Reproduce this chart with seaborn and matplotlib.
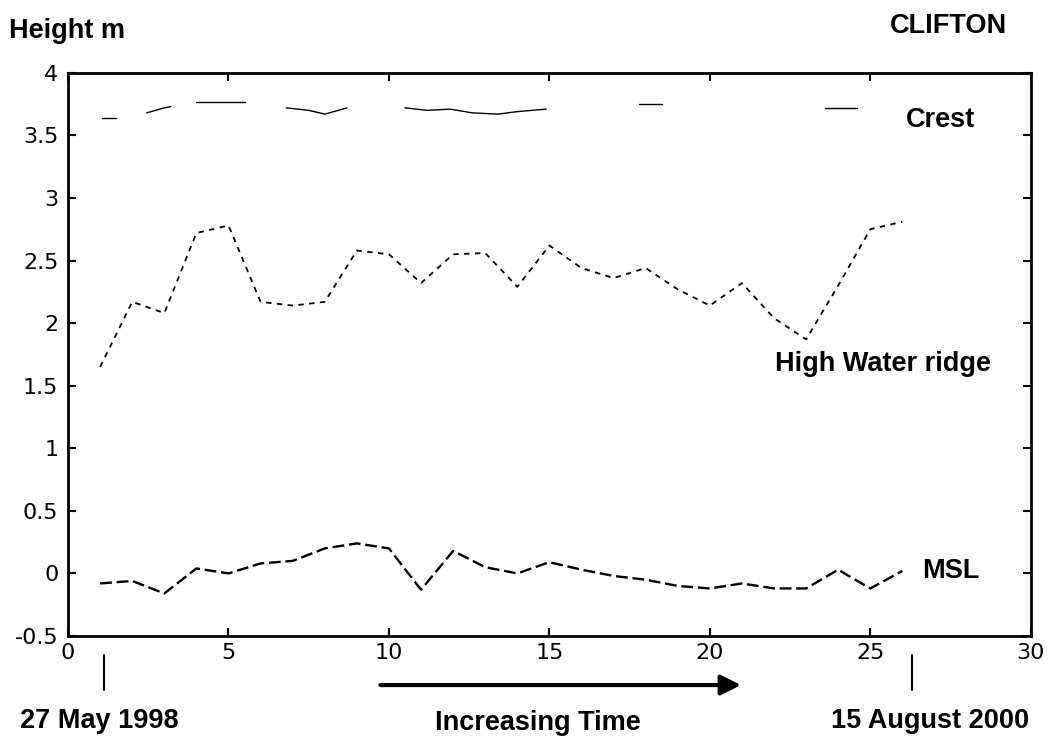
import numpy as np
import pandas as pd
import matplotlib
matplotlib.use('Agg')
import matplotlib.pyplot as plt
import seaborn as sns

# ---------------------------------------------------------------------------
# data
# ---------------------------------------------------------------------------
survey = list(range(1, 27))

high_water = [1.65, 2.17, 2.08, 2.72, 2.78, 2.17, 2.14, 2.17, 2.58, 2.55,
              2.32, 2.55, 2.56, 2.29, 2.62, 2.44, 2.36, 2.44, 2.27, 2.14,
              2.32, 2.04, 1.87, 2.30, 2.75, 2.81]

msl = [-0.08, -0.06, -0.16, 0.04, 0.00, 0.08, 0.10, 0.20, 0.24, 0.20,
       -0.13, 0.18, 0.05, 0.00, 0.09, 0.03, -0.02, -0.05, -0.10, -0.12,
       -0.08, -0.12, -0.12, 0.03, -0.12, 0.02]

# crest is only visible in pieces
crest_x = [1.05, 1.5,
           2.45, 3.0, 3.2,
           4.0, 5.5,
           6.8, 7.5, 8.0, 8.7,
           10.5, 11.2, 11.9, 12.6, 13.4, 14.0, 14.9,
           17.8, 18.5,
           23.6, 24.6]
crest_y = [3.64, 3.64,
           3.68, 3.72, 3.73,
           3.77, 3.77,
           3.72, 3.70, 3.67, 3.72,
           3.72, 3.70, 3.71, 3.68, 3.67, 3.69, 3.71,
           3.75, 3.75,
           3.72, 3.72]
crest_seg = [1, 1, 2, 2, 2, 3, 3, 4, 4, 4, 4,
             5, 5, 5, 5, 5, 5, 5, 6, 6, 7, 7]

xticks = [0, 5, 10, 15, 20, 25, 30]
yticks = [-0.5, 0, 0.5, 1, 1.5, 2, 2.5, 3, 3.5, 4]
ytick_labels = ['-0.5', '0', '0.5', '1', '1.5', '2', '2.5', '3', '3.5', '4']

# ---------------------------------------------------------------------------
sns.set_style('ticks')
plt.rcParams['font.family'] = ['DejaVu Sans']
plt.rcParams['text.color'] = 'black'
BOLD = ['Liberation Sans', 'DejaVu Sans']
LBL = dict(fontsize=19.5, fontweight='heavy', family=BOLD, color='black')

fig = plt.figure(figsize=(10.55, 7.43), dpi=100)
ax = fig.add_axes([0.0645, 0.144, 0.9125, 0.758])

df_main = pd.DataFrame({'x': survey, 'hw': high_water, 'msl': msl})
df_crest = pd.DataFrame({'x': crest_x, 'y': crest_y, 'seg': crest_seg})

sns.lineplot(data=df_crest, x='x', y='y', units='seg', estimator=None,
             color='black', linewidth=1.0, ax=ax, sort=False)
sns.lineplot(data=df_main, x='x', y='hw', color='black', linewidth=1.3,
             linestyle=(0, (3, 3)), ax=ax)
sns.lineplot(data=df_main, x='x', y='msl', color='black', linewidth=1.7,
             linestyle=(0, (5, 2)), ax=ax)

ax.set_xlim(0, 30)
ax.set_ylim(-0.5, 4)
ax.set_xticks(xticks)
ax.set_yticks(yticks)
ax.set_yticklabels(ytick_labels)
ax.set_xlabel('')
ax.set_ylabel('')
ax.tick_params(direction='in', length=6, width=1.5, labelsize=16,
               top=True, right=True, colors='black')
ax.tick_params(axis='y', pad=7)
ax.tick_params(axis='x', pad=5)
for spine in ax.spines.values():
    spine.set_visible(True)
    spine.set_linewidth(2)
    spine.set_color('black')

# labels inside the plot
ax.text(27.2, 3.62, 'Crest', ha='center', va='center', **LBL)
ax.text(25.4, 1.67, 'High Water ridge', ha='center', va='center', **LBL)
ax.text(27.5, 0.02, 'MSL', ha='center', va='center', **LBL)

# header texts
fig.text(0.009, 0.958, 'Height m', ha='left', va='center', **LBL)
fig.text(0.955, 0.965, 'CLIFTON', ha='right', va='center', **LBL)

# date markers below the axis
fig.add_artist(plt.Line2D([0.0985, 0.0985], [0.072, 0.118], color='black', lw=1.5))
fig.add_artist(plt.Line2D([0.8645, 0.8645], [0.072, 0.118], color='black', lw=1.5))
fig.text(0.094, 0.030, '27 May 1998', ha='center', va='center', **LBL)
fig.text(0.882, 0.030, '15 August 2000', ha='center', va='center', **LBL)
fig.text(0.510, 0.027, 'Increasing Time', ha='center', va='center', **LBL)
fig.add_artist(matplotlib.patches.FancyArrowPatch(
    (0.358, 0.078), (0.705, 0.078), transform=fig.transFigure,
    arrowstyle='-|>,head_length=12,head_width=6', color='black', lw=3))

fig.savefig('out.png', dpi=100, facecolor='white')
